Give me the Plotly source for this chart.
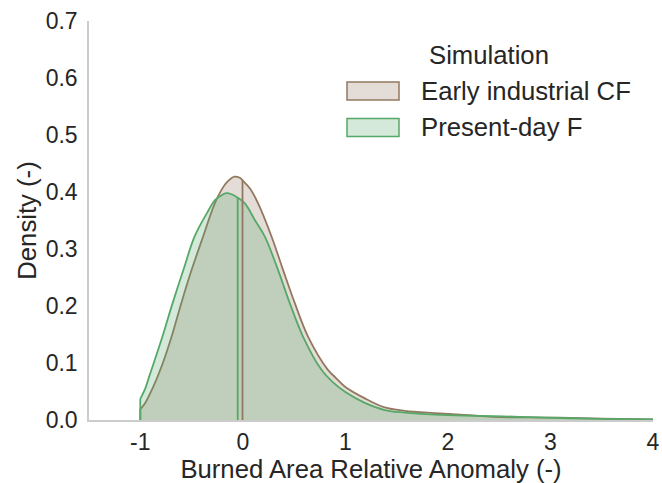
import numpy as np
import plotly.graph_objects as go

# --- data -----------------------------------------------------------------
series_names = ["Early industrial CF", "Present-day F"]
legend_title = "Simulation"
x_title = "Burned Area Relative Anomaly (-)"
y_title = "Density (-)"

# kernel density estimate of the burned-area anomaly, early industrial run
early_x = [-1.0, -0.955, -0.874, -0.78, -0.695, -0.60, -0.50, -0.387, -0.273,
           -0.19, -0.14, -0.08, -0.03, 0.0, 0.07, 0.149, 0.28, 0.393, 0.507, 0.637,
           0.83, 0.9, 1.0, 1.19, 1.384, 1.58, 1.87, 2.16, 2.44, 2.8, 3.09, 3.5, 4.0]
early_y = [0.019, 0.029, 0.058, 0.100, 0.146, 0.205, 0.263, 0.322, 0.380,
           0.409, 0.420, 0.427, 0.425, 0.420, 0.406, 0.380, 0.322, 0.263, 0.205, 0.146,
           0.088, 0.075, 0.058, 0.038, 0.022, 0.016, 0.012, 0.009, 0.0055, 0.0045, 0.004, 0.0025, 0.0012]

# kernel density estimate, present-day run
present_x = [-1.0, -0.95, -0.906, -0.79, -0.69, -0.58, -0.47, -0.35, -0.27,
             -0.21, -0.16, -0.11, -0.05, 0.02, 0.117, 0.214, 0.344, 0.458, 0.588,
             0.767, 0.88, 1.0, 1.19, 1.384, 1.58, 1.87, 2.16, 2.44, 2.7, 3.09, 3.5, 4.0]
present_y = [0.037, 0.056, 0.080, 0.143, 0.202, 0.263, 0.322, 0.363, 0.386,
             0.394, 0.398, 0.396, 0.390, 0.380, 0.351, 0.322, 0.263, 0.205, 0.146,
             0.088, 0.066, 0.049, 0.030, 0.0175, 0.013, 0.0094, 0.0076, 0.0068, 0.0055, 0.0035, 0.002, 0.001]

# medians of each distribution
early_median = -0.003
present_median = -0.05

x_ticks = [-1, 0, 1, 2, 3, 4]
x_tick_labels = ["-1", "0", "1", "2", "3", "4"]
y_ticks = [0.0, 0.1, 0.2, 0.3, 0.4, 0.5, 0.6, 0.7]
y_tick_labels = ["0.0", "0.1", "0.2", "0.3", "0.4", "0.5", "0.6", "0.7"]

# --- styling --------------------------------------------------------------
BROWN = "#937860"
GREEN = "#55a868"
BROWN_FILL = "rgba(147,120,96,0.25)"
GREEN_FILL = "rgba(85,168,104,0.25)"
TEXT = "#262626"
AXIS = "#cccccc"
FONT = "Liberation Sans, Arial, sans-serif"
LABEL_SIZE = 25.7

series = [
    (early_x, early_y, early_median, BROWN, BROWN_FILL),
    (present_x, present_y, present_median, GREEN, GREEN_FILL),
]

fig = go.Figure()

for xs, ys, med, col, fillcol in series:
    fig.add_trace(go.Scatter(
        x=xs, y=ys, mode="lines", fill="tozeroy", fillcolor=fillcol,
        line=dict(color=col, width=1.8, shape="spline", smoothing=1.0),
        hoverinfo="skip", showlegend=False,
    ))
    # closing edge of the filled area at the lower bound
    fig.add_trace(go.Scatter(
        x=[xs[0], xs[0]], y=[0, ys[0]], mode="lines",
        line=dict(color=col, width=1.8), hoverinfo="skip", showlegend=False,
    ))

# median markers, running from the baseline up to the density curve
for xs, ys, med, col, fillcol in series:
    h = float(np.interp(med, xs, ys))
    fig.add_trace(go.Scatter(
        x=[med, med], y=[0, h], mode="lines",
        line=dict(color=col, width=1.8), hoverinfo="skip", showlegend=False,
    ))

# --- legend drawn in paper coordinates ------------------------------------
plot_l, plot_r, plot_t, plot_b = 89, 653, 21, 420
pw, ph = plot_r - plot_l, plot_b - plot_t


def px_x(v):
    return (v - plot_l) / pw


def px_y(v):
    return (plot_b - v) / ph


shapes = []
annotations = []
rows = [(series_names[0], BROWN, BROWN_FILL, 82, 100),
        (series_names[1], GREEN, GREEN_FILL, 118.5, 136.5)]
for name, col, fillcol, top, bot in rows:
    shapes.append(dict(
        type="rect", xref="paper", yref="paper",
        x0=px_x(347), x1=px_x(399), y0=px_y(bot), y1=px_y(top),
        fillcolor=fillcol, line=dict(color=col, width=1.5),
    ))
    annotations.append(dict(
        xref="paper", yref="paper", x=px_x(418.5), y=px_y((top + bot) / 2),
        text=name, showarrow=False, xanchor="left", yanchor="middle",
        font=dict(family=FONT, size=LABEL_SIZE, color=TEXT),
    ))
annotations.append(dict(
    xref="paper", yref="paper", x=px_x(427), y=px_y(55),
    text=legend_title, showarrow=False, xanchor="left", yanchor="middle",
    font=dict(family=FONT, size=LABEL_SIZE, color=TEXT),
))

fig.update_layout(
    width=662, height=483,
    margin=dict(l=plot_l, r=662 - plot_r, t=plot_t, b=483 - plot_b),
    plot_bgcolor="white", paper_bgcolor="white",
    font=dict(family=FONT, size=23, color=TEXT),
    showlegend=False,
    shapes=shapes, annotations=annotations,
    xaxis=dict(
        range=[-1.5, 4.0], tickmode="array", tickvals=x_ticks, ticktext=x_tick_labels,
        showline=True, linecolor=AXIS, linewidth=1.5, showgrid=False, zeroline=False,
        ticks="", ticklabelstandoff=1, automargin=False,
        title=dict(text=x_title, font=dict(size=LABEL_SIZE), standoff=4),
    ),
    yaxis=dict(
        range=[0, 0.7], tickmode="array", tickvals=y_ticks, ticktext=y_tick_labels,
        showline=True, linecolor=AXIS, linewidth=1.5, showgrid=False, zeroline=False,
        ticks="", ticklabelstandoff=5, automargin=False,
        title=dict(text=y_title, font=dict(size=LABEL_SIZE), standoff=2),
    ),
)

fig.write_html("out.html")
